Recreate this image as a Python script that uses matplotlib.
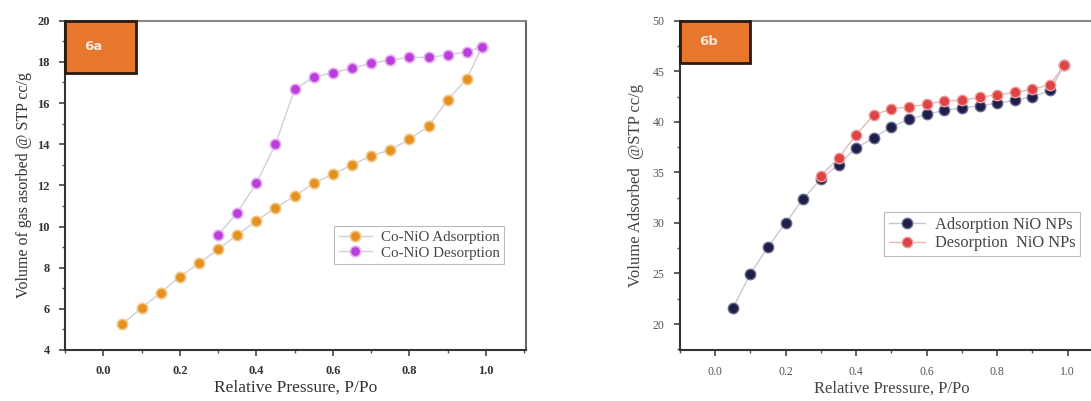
import numpy as np
import matplotlib
matplotlib.use('Agg')
import matplotlib.pyplot as plt
from matplotlib.patches import Rectangle
from matplotlib.ticker import MultipleLocator, FormatStrFormatter

plt.rcParams['font.family'] = ['Liberation Serif', 'DejaVu Serif']

# Panel 6a: Co-NiO isotherm
co_ads_p = [0.05, 0.10, 0.15, 0.20, 0.25, 0.30, 0.35, 0.40, 0.45, 0.50,
            0.55, 0.60, 0.65, 0.70, 0.75, 0.80, 0.85, 0.90, 0.95, 0.99]
co_ads_v = [5.26, 6.05, 6.78, 7.56, 8.21, 8.89, 9.59, 10.28, 10.91, 11.48,
            12.10, 12.55, 12.99, 13.44, 13.72, 14.24, 14.88, 16.15, 17.17, 18.74]
co_des_p = [0.30, 0.35, 0.40, 0.45, 0.50, 0.55, 0.60, 0.65, 0.70, 0.75,
            0.80, 0.85, 0.90, 0.95, 0.99]
co_des_v = [9.59, 10.67, 12.10, 13.99, 16.67, 17.25, 17.47, 17.69, 17.93, 18.09,
            18.22, 18.22, 18.33, 18.49, 18.74]

# Panel 6b: NiO NPs isotherm
nio_ads_p = [0.05, 0.10, 0.15, 0.20, 0.25, 0.30, 0.35, 0.40, 0.45, 0.50,
             0.55, 0.60, 0.65, 0.70, 0.75, 0.80, 0.85, 0.90, 0.95, 0.99]
nio_ads_v = [21.57, 24.99, 27.65, 30.02, 32.39, 34.36, 35.77, 37.42, 38.43, 39.52,
             40.26, 40.74, 41.12, 41.36, 41.59, 41.85, 42.11, 42.50, 43.10, 45.63]
nio_des_p = [0.30, 0.35, 0.40, 0.45, 0.50, 0.55, 0.60, 0.65, 0.70, 0.75,
             0.80, 0.85, 0.90, 0.95, 0.99]
nio_des_v = [34.68, 36.43, 38.73, 40.70, 41.26, 41.49, 41.72, 42.08, 42.11, 42.44,
             42.67, 42.90, 43.23, 43.66, 45.63]


def style_axes(ax, ylim, ymaj, ymin, bold_ticks, tick_color, tsize):
    ax.set_xlim(-0.1, 1.104)
    ax.set_ylim(*ylim)
    ax.xaxis.set_major_locator(MultipleLocator(0.2))
    ax.xaxis.set_minor_locator(MultipleLocator(0.1))
    ax.yaxis.set_major_locator(MultipleLocator(ymaj))
    ax.yaxis.set_minor_locator(MultipleLocator(ymin))
    ax.tick_params(which='major', direction='out', length=4, width=1.2, colors='#444444',
                   labelcolor=tick_color, labelsize=tsize, pad=7)
    ax.tick_params(which='minor', direction='out', length=2.5, width=1, colors='#555555')
    ax.xaxis.set_major_formatter(FormatStrFormatter('%.1f'))
    ax.yaxis.set_major_formatter(FormatStrFormatter('%d'))
    for lab in ax.get_xticklabels() + ax.get_yticklabels():
        lab.set_fontweight('bold' if bold_ticks else 'normal')
    ax.spines['left'].set_color('#333333')
    ax.spines['bottom'].set_color('#333333')
    ax.spines['top'].set_color('#888888')
    ax.spines['right'].set_color('#666666')
    for s in ax.spines.values():
        s.set_linewidth(1.5)


def tag(ax, text, w, h):
    ax.add_patch(Rectangle((0, 1 - h), w, h, transform=ax.transAxes, facecolor='#E8772E',
                           edgecolor='#2b1a10', linewidth=2, zorder=5, clip_on=False))
    ax.text(w * 0.4, 1 - h / 2, text, transform=ax.transAxes, color='#f5e6d8',
            fontsize=9.5, fontweight='bold', family='DejaVu Sans', ha='center', va='center',
            zorder=6)


def legend(ax, anchor, size):
    leg = ax.legend(loc='upper left', bbox_to_anchor=anchor, fontsize=size,
                    frameon=True, fancybox=False, borderpad=0.3, handlelength=2.2,
                    handletextpad=0.6, labelspacing=0.15, borderaxespad=0)
    leg.get_frame().set_edgecolor('#aaaaaa')
    leg.get_frame().set_linewidth(0.8)
    for t in leg.get_texts():
        t.set_color('#444444')


fig = plt.figure(figsize=(10.91, 4.01), dpi=100)

# left panel
ax1 = fig.add_axes([65 / 1091, 51 / 401, 460.7 / 1091, 329.3 / 401])
ax1.plot(co_ads_p, co_ads_v, '-o', color='#cfcfd6', lw=1, mfc='#E39221', mec='#f3c98a',
         mew=1.2, ms=7.5, zorder=3, label='Co-NiO Adsorption')
ax1.plot(co_des_p, co_des_v, '-o', color='#cfcfd6', lw=1, mfc='#B93FDB', mec='#e6b0f2',
         mew=1.2, ms=7.5, zorder=4, label='Co-NiO Desorption')
style_axes(ax1, (4, 20), 2, 1, True, '#333333', 9)
ax1.set_xlabel('Relative Pressure, P/Po', fontsize=12.5, color='#333333', labelpad=2)
ax1.set_ylabel('Volume of gas asorbed @ STP cc/g', fontsize=11.5, color='#333333', labelpad=4)
legend(ax1, (0.584, 0.377), 10.8)
tag(ax1, '6a', 0.154, 0.159)

# right panel
ax2 = fig.add_axes([680 / 1091, 50.7 / 401, 424.4 / 1091, 329.6 / 401])
ax2.plot(nio_ads_p, nio_ads_v, '-o', color='#c8c8d8', lw=1, mfc='#1d1f4a', mec='#6a6a8a',
         mew=1, ms=7.5, zorder=3, label='Adsorption NiO NPs')
ax2.plot(nio_des_p, nio_des_v, '-o', color='#e8b8b8', lw=1, mfc='#dd4444', mec='#f0a0a0',
         mew=1, ms=7.5, zorder=4, label='Desorption  NiO NPs')
style_axes(ax2, (17.4, 50), 5, 2.5, False, '#555555', 8.5)
ax2.set_xlabel('Relative Pressure, P/Po', fontsize=12, color='#444444', labelpad=2)
ax2.set_ylabel('Volume Adsorbed  @STP cc/g', fontsize=12, color='#444444', labelpad=6)
legend(ax2, (0.481, 0.42), 11.8)
tag(ax2, '6b', 0.165, 0.128)

fig.savefig('out.png', dpi=100)
